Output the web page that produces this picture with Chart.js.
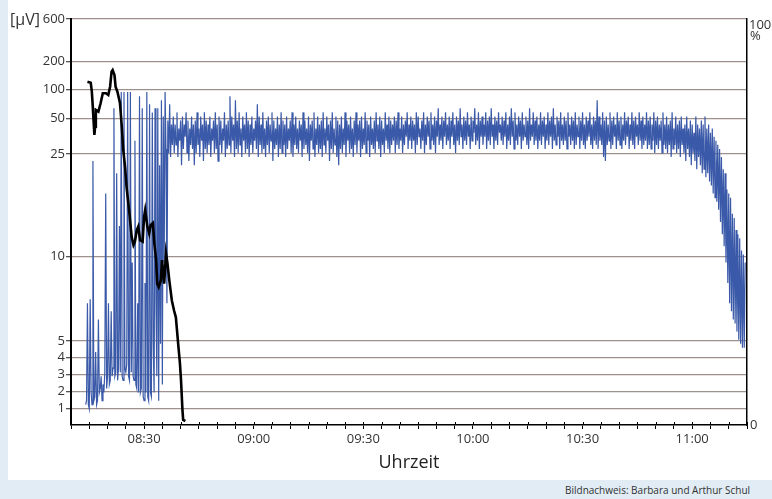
<!DOCTYPE html>
<html><head><meta charset="utf-8">
<script src="https://cdn.jsdelivr.net/npm/chart.js@4"></script>
<style>
html,body{margin:0;padding:0;width:772px;height:499px;overflow:hidden;background:#e1ecf4;}
#panel{position:absolute;left:8px;top:0;width:764px;height:480px;background:#fff;}
#wrap{position:absolute;left:0;top:0;width:772px;height:499px;}
#credit{position:absolute;left:565px;top:483px;font:10px 'Open Sans',sans-serif;color:#333;white-space:nowrap;}
</style></head>
<body>
<div id="panel"></div>
<div id="credit">Bildnachweis: Barbara und Arthur Schul</div>
<div id="wrap"><canvas id="c" width="772" height="499"></canvas></div>
<script>
// ---- data ----
const leftTicks = [1, 2, 3, 4, 5, 10, 25, 50, 100, 200, 600];
const rightTicks = [0, 100];
const xAxisTitle = 'Uhrzeit';
const leftUnit = '[µV]';
const rightUnit = '%';

// black curve: time (minutes since midnight) and amplitude in µV
const blackTimes = [494.5,495.4,495.7,495.9,496.4,496.6,496.8,497.5,498.1,498.7,499.6,500.2,500.7,501.1,501.4,501.9,502.2,502.7,503.4,503.9,504.3,504.8,505.2,506.0,506.6,507.1,507.5,508.0,508.4,508.9,509.6,510.0,510.3,510.9,511.4,511.8,512.4,512.8,513.3,513.6,514.0,514.6,514.9,515.5,516.0,516.4,516.9,517.6,518.2,518.7,519.4,519.8,520.1,520.5,520.7,521.3];
const blackValues = [127.5,124,95.9,76.4,38.3,44.1,64.3,61.4,75.9,93.1,93.1,90.2,109.4,163.8,169.9,151.8,109.4,95.9,76.4,44.1,27.8,23.1,20.2,16.3,12.9,11.7,12.2,13.9,14.4,12.4,12.2,15.8,16.8,14.4,13.4,14.6,14.9,12.0,9.8,8.4,8.2,8.6,9.8,8.4,10.5,9.6,8.6,7.4,6.8,6.4,4.65,3.7,2.7,0.9,0.3,0.24];

// blue curve: sampled every quarter minute from 08:14, values in %
const blueStartMinute = 494;
const blueStepMinutes = 0.25;
const blueValues = [
// spiky start phase
5,6,30,5,4,31,8,5,65,6,
7,18,5,6,26,8,9,12,6,10,
8,13,57,9,12,30,10,11,28,12,
14,78,12,13,62,11,14,49,13,82,
12,11,82,14,13,15,82,12,11,82,
13,40,12,11,70,10,9,30,8,81,
8,9,78,7,6,35,8,82,7,6,
79,8,7,77,20,8,78,30,12,78,
6,64,20,80,10,76,40,82,68,30,
75,67,79,66,74,69,
// steady band
76,67,74,69,77,66,73,70,75,64,76,68,74,71,77,67,75,65,73,69,
76,68,74,64,75,67,77,69,73,66,76,70,74,65,77,68,75,67,74,69,
76,66,73,70,75,67,77,68,74,65,76,69,75,67,73,70,77,66,74,68,
75,69,81,67,76,70,74,66,80,68,75,67,77,69,73,66,76,70,74,67,
77,68,75,66,74,69,76,67,73,70,75,68,79,66,76,69,74,67,77,68,
73,66,75,69,76,67,74,70,77,65,75,68,73,69,76,66,74,68,77,67,
75,69,74,66,76,68,73,70,75,67,77,66,74,69,76,68,73,67,75,70,
74,66,77,68,75,69,73,67,76,65,74,70,75,68,77,66,73,69,76,67,
74,68,75,66,77,69,73,67,76,70,74,65,75,68,77,67,73,69,76,66,
75,64,74,68,76,67,73,69,77,66,75,70,74,67,76,68,73,66,75,69,
77,67,74,70,75,66,76,68,73,69,77,67,75,70,74,66,76,69,73,68,
75,67,77,70,74,68,76,66,75,69,73,67,77,70,74,68,76,67,75,69,
74,70,76,67,75,69,77,68,73,70,76,67,74,69,75,71,77,68,74,70,
76,68,75,70,74,67,77,69,76,71,73,68,75,70,77,67,74,69,76,71,
75,68,77,70,74,69,76,67,75,71,78,69,74,70,76,68,75,71,77,69,
74,70,76,68,75,71,77,69,74,67,76,70,75,69,78,71,74,68,76,70,
75,69,77,71,74,68,76,70,75,72,78,69,74,70,77,68,75,71,76,69,
74,71,77,68,75,70,76,69,78,71,74,68,76,70,75,69,77,72,74,70,
76,69,75,71,77,68,74,70,76,69,78,71,75,68,77,70,74,69,76,71,
75,68,77,70,74,71,76,69,75,68,78,70,74,71,77,69,75,70,76,68,
74,70,77,69,75,71,76,68,74,70,77,69,75,71,76,68,78,70,74,69,
76,71,75,68,77,70,74,69,76,70,75,68,77,71,74,69,76,70,75,68,
77,69,74,71,76,68,75,70,77,69,74,68,76,70,75,71,77,69,74,68,
76,70,75,69,80,68,76,70,74,69,77,66,75,65,76,69,74,70,77,68,
75,69,76,71,74,68,77,70,75,69,76,68,74,70,77,69,75,71,76,68,
74,70,77,69,75,68,76,71,74,69,77,70,75,68,76,69,74,70,77,68,
75,69,76,68,74,70,77,67,75,69,76,68,74,70,75,67,77,69,74,68,
76,67,74,69,75,66,77,68,73,69,76,67,74,68,75,66,76,69,73,67,
74,65,76,68,73,66,75,64,74,67,72,65,76,63,74,66,73,64,75,62,
74,63,76,61,
// final decline
73,62,74,60,72,59,73,57,71,56,70,55,69,53,68,50,66,47,63,44,
62,40,58,35,57,30,56,28,52,26,51,25,48,23,47,21,46,20,43,19,
42,19,40
];

// ---- piecewise vertical scale used by the original figure ----
const BP_V = [0, 10, 25, 50, 100, 200, 600];
const BP_F = [0, 0.4145, 0.6675, 0.7554, 0.8268, 0.8948, 1];
function frac(v) {
  if (v <= 0) return v / 10 * BP_F[1];
  for (let k = 1; k < BP_V.length; k++) {
    if (v <= BP_V[k]) {
      const a = BP_V[k-1], b = BP_V[k];
      return BP_F[k-1] + (v - a) / (b - a) * (BP_F[k] - BP_F[k-1]);
    }
  }
  return 1;
}
function unfrac(f) {
  for (let k = 1; k < BP_F.length; k++) {
    if (f <= BP_F[k]) {
      return BP_V[k-1] + (f - BP_F[k-1]) / (BP_F[k] - BP_F[k-1]) * (BP_V[k] - BP_V[k-1]);
    }
  }
  return 600;
}
class PiecewiseScale extends Chart.LinearScale {
  buildTicks() { return leftTicks.map(v => ({ value: v })); }
  getPixelForValue(v) { return this.bottom - frac(v) * (this.bottom - this.top); }
  getValueForPixel(p) { return unfrac((this.bottom - p) / (this.bottom - this.top)); }
}
PiecewiseScale.id = 'piecewise';
PiecewiseScale.defaults = Chart.LinearScale.defaults;
Chart.register(PiecewiseScale);

function fmt(m) {
  const h = Math.floor(m / 60), mm = Math.round(m % 60);
  return String(h).padStart(2, '0') + ':' + String(mm).padStart(2, '0');
}

const FONT = "'Open Sans', 'Noto Sans', sans-serif";
const unitPlugin = {
  id: 'unitText',
  afterDraw(chart) {
    const ctx = chart.ctx;
    const r = chart.scales.yR;
    const x = chart.scales.x;
    const yTop = r.getPixelForValue(100);
    ctx.save();
    // small tick marks reaching above the time axis, as in the original
    ctx.strokeStyle = '#000';
    ctx.lineWidth = 1;
    x.ticks.forEach(t => {
      const px = Math.round(x.getPixelForValue(t.value)) + 0.5;
      ctx.beginPath();
      ctx.moveTo(px, x.top - 3);
      ctx.lineTo(px, x.top);
      ctx.stroke();
    });
    ctx.fillStyle = '#333';
    ctx.textBaseline = 'middle';
    ctx.textAlign = 'left';
    ctx.font = '16px ' + FONT;
    ctx.fillText(leftUnit, 10, yTop + 1);
    ctx.font = '13px ' + FONT;
    ctx.fillText(String(rightTicks[1]), r.left + 2, yTop + 6);
    ctx.fillText(rightUnit, r.left + 3, yTop + 17);
    ctx.restore();
  }
};

new Chart(document.getElementById('c'), {
  type: 'line',
  data: {
    datasets: [
      {
        label: 'µV',
        data: blackTimes.map((t, i) => ({ x: t, y: blackValues[i] })),
        yAxisID: 'y',
        borderColor: '#000',
        borderWidth: 2.6,
        pointRadius: 0,
        tension: 0,
        fill: false
      },
      {
        label: '%',
        data: blueValues.map((v, i) => ({ x: blueStartMinute + i * blueStepMinutes, y: v })),
        yAxisID: 'yR',
        borderColor: '#3a59a8',
        borderWidth: 1.2,
        pointRadius: 0,
        tension: 0,
        fill: false
      }
    ]
  },
  options: {
    responsive: false,
    animation: false,
    devicePixelRatio: 1,
    layout: { padding: { top: 19, bottom: 19, left: 0, right: 0 } },
    plugins: { legend: { display: false }, tooltip: { enabled: false } },
    scales: {
      x: {
        type: 'linear', min: 490, max: 675, position: 'bottom',
        ticks: { stepSize: 5, autoSkip: false, maxRotation: 0, padding: 2, color: '#333',
                 font: { family: FONT, size: 13 },
                 callback: v => (v % 30 === 0 ? fmt(v) : '') },
        grid: { drawOnChartArea: false, tickLength: 4, color: '#000', lineWidth: 1 },
        border: { color: '#000', width: 1.5 },
        title: { display: true, text: xAxisTitle, color: '#222', font: { family: FONT, size: 18 },
                 padding: { top: 0, bottom: 6 } },
        afterFit: s => { s.height = 55; }
      },
      y: {
        type: 'piecewise', min: 0, max: 600, position: 'left',
        ticks: { autoSkip: false, padding: 1, color: '#333', font: { family: FONT, size: 13 },
                 callback: v => String(v) },
        grid: { color: '#9e908c', lineWidth: 1.3, tickLength: 5, tickColor: '#555' },
        border: { color: '#000', width: 2 },
        afterFit: s => { s.width = 71; }
      },
      yR: {
        type: 'linear', min: 0, max: 100, position: 'right',
        afterBuildTicks: s => { s.ticks = rightTicks.map(v => ({ value: v })); },
        ticks: { autoSkip: false, padding: 3, color: '#333', font: { family: FONT, size: 13 },
                 callback: v => (v === rightTicks[0] ? String(v) : '') },
        grid: { display: false, drawTicks: false },
        border: { display: true, color: '#000', width: 1.5 },
        afterFit: s => { s.width = 25; }
      }
    }
  },
  plugins: [unitPlugin]
});
</script>
</body></html>
